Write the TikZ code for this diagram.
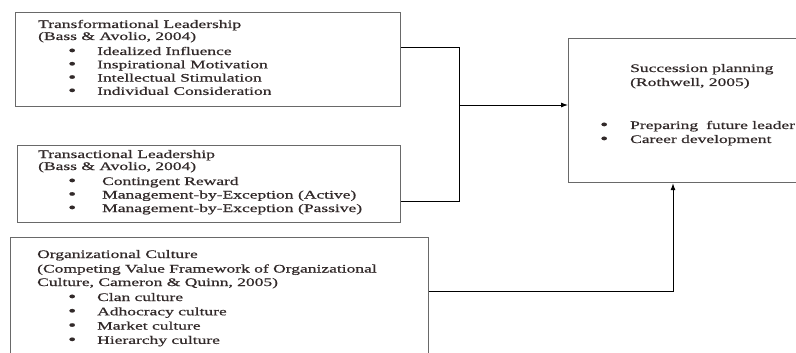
\documentclass[tikz,border=0pt]{standalone}
\usepackage{fontspec}
\setmainfont[FakeStretch=1.52,FakeBold=0.6]{Liberation Serif}
\usetikzlibrary{arrows.meta}
\definecolor{txtc}{RGB}{50,42,42}
\definecolor{boxc}{RGB}{105,105,105}
\newcommand\Lrow[2]{\vskip#1\hbox{\smash{#2}}}
\newcommand\Bul{\raisebox{-0.4pt}{\fontsize{15}{15}\selectfont\textbullet}}
\newcommand\Brow[4]{\vskip#1\hbox{\smash{\hspace*{#2}\makebox[#3][l]{\Bul}#4}}}
\tikzset{
  framebox/.style={draw=boxc, line width=1.2pt, rectangle, inner sep=0pt, anchor=north west},
  txt/.style={anchor=base west, inner sep=0pt, text=txtc, font=\fontsize{11.5}{14}\selectfont},
  conn/.style={draw=black, line width=0.9pt},
  arr/.style={conn, -{Latex[length=7pt,width=5pt]}}
}
\begin{document}
\begin{tikzpicture}[x=1pt,y=-1pt]
\useasboundingbox (0,0) rectangle (796,353);
\clip (0,0) rectangle (796,353);
\fill[white] (0,0) rectangle (796,353);
% boxes
\node[framebox, minimum width=385pt, minimum height=94pt] (b1) at (15,12) {};
\node[framebox, minimum width=383pt, minimum height=77pt] (b2) at (17,145) {};
\node[framebox, minimum width=418pt, minimum height=130pt] (b3) at (10,237) {};
\node[framebox, minimum width=250pt, minimum height=144pt] (sp) at (568,38) {};
% texts
\node[txt] (t1) at (38,28) {\vtop{\offinterlineskip
  \Lrow{0pt}{Transformational\hspace{0.4em}Leadership}%
  \Lrow{12pt}{(Bass \& Avolio, 2004)}%
  \Brow{15pt}{30pt}{29pt}{Idealized Influence}%
  \Brow{13.3pt}{30pt}{29pt}{Inspirational\hspace{0.4em}Motivation}%
  \Brow{13.3pt}{30pt}{29pt}{Intellectual Stimulation}%
  \Brow{13.3pt}{30pt}{29pt}{Individual Consideration}}};
\node[txt] (t2) at (38,158) {\vtop{\offinterlineskip
  \Lrow{0pt}{Transactional\hspace{0.4em}Leadership}%
  \Lrow{12pt}{(Bass \& Avolio, 2004)}%
  \Brow{15pt}{30pt}{34pt}{Contingent Reward}%
  \Brow{13.5pt}{30pt}{34pt}{Management-by-Exception\hspace{0.4em}(Active)}%
  \Brow{13.5pt}{30pt}{34pt}{Management-by-Exception\hspace{0.4em}(Passive)}}};
\node[txt] (t3) at (37,258) {\vtop{\offinterlineskip
  \Lrow{0pt}{Organizational\hspace{0.4em}Culture}%
  \Lrow{14.5pt}{(Competing Value Framework of Organizational}%
  \Lrow{13.5pt}{Culture, Cameron \& Quinn, 2005)}%
  \Brow{15pt}{31pt}{29pt}{Clan culture}%
  \Brow{14.3pt}{31pt}{29pt}{Adhocracy culture}%
  \Brow{14.3pt}{31pt}{29pt}{Market culture}%
  \Brow{14.3pt}{31pt}{29pt}{Hierarchy culture}}};
\node[txt] (t4) at (600,72) {\vtop{\offinterlineskip
  \Lrow{0pt}{\hspace*{30pt}Succession planning}%
  \Lrow{14pt}{\hspace*{30pt}(Rothwell, 2005)}%
  \Brow{43pt}{0pt}{30pt}{Preparing\hspace{0.7em}future leader}%
  \Brow{14pt}{0pt}{30pt}{Career development}}};
% connectors
\coordinate (j1) at (459,47);
\coordinate (j2) at (459,201);
\coordinate (jm) at (459,105);
\coordinate (j3) at (673,291);
\draw[conn] (b1.east |- j1) -- (j1) -- (j2) -- (b2.east |- j2);
\draw[arr] (jm) -- (sp.west |- jm);
\draw[arr] (b3.east |- j3) -- (j3) -- (sp.south -| j3);
\end{tikzpicture}
\end{document}
